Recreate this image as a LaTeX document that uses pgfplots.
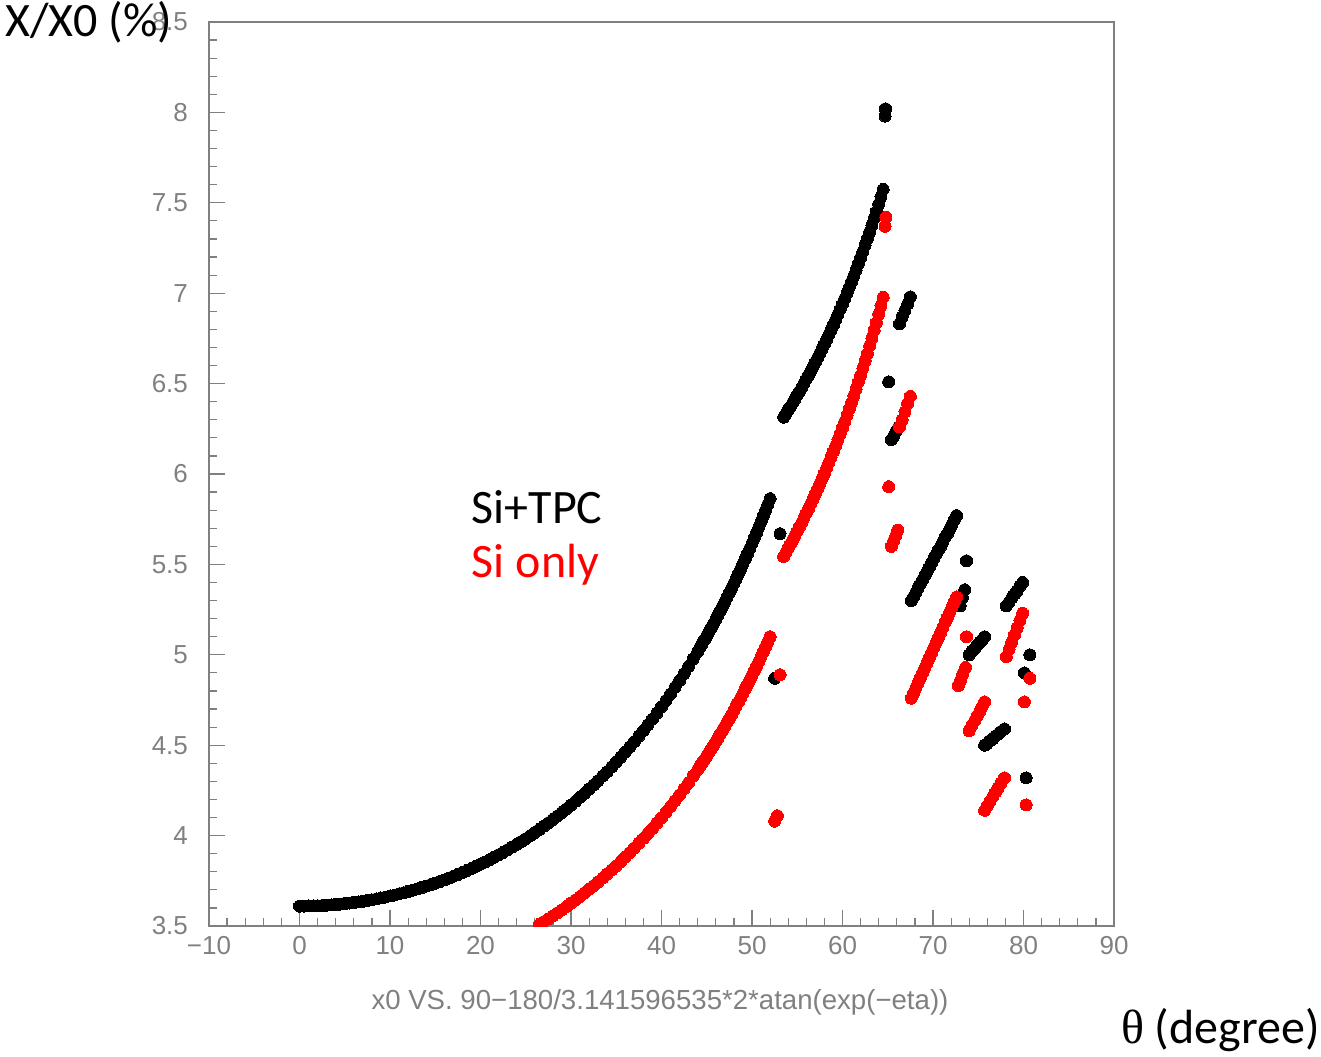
\documentclass[border=0pt]{standalone}
\usepackage{fontspec}
\setmainfont{Carlito}
\newfontfamily\rootfont{Liberation Sans}
\newfontfamily\seriffont{Liberation Serif}
\usepackage{pgfplots}
\pgfplotsset{compat=1.18}
\definecolor{axgray}{RGB}{128,128,128}
\begin{document}
\begin{tikzpicture}
\begin{axis}[
 scale only axis, width=452.5pt, height=452pt,
 xmin=-10, xmax=90, ymin=3.5, ymax=8.5,
 xtick={-10,0,10,20,30,40,50,60,70,80,90},
 xticklabels={−10,0,10,20,30,40,50,60,70,80,90},
 ytick={3.5,4,4.5,5,5.5,6,6.5,7,7.5,8,8.5},
 yticklabels={3.5,4,4.5,5,5.5,6,6.5,7,7.5,8,8.5},
 minor x tick num=4, minor y tick num=4,
 tick align=inside, xtick pos=left, ytick pos=left,
 major tick length=8pt, minor tick length=4pt,
 axis line style={axgray, line width=0.6pt},
 every tick/.append style={axgray, line width=0.6pt},
 tick label style={font=\rootfont\fontsize{13}{13}\selectfont, text=axgray},
 yticklabel style={xshift=-7pt},
 xticklabel style={yshift=-1.5pt},
 clip marker paths=true,
 only marks,
]
% Si+TPC (black)
\addplot[mark=*, mark size=3pt, mark options={draw=black, fill=black, line width=0pt}] coordinates {
(0,3.610)(0.5,3.610)(1,3.611)(1.5,3.611)(2,3.612)(2.5,3.613)(3,3.615)(3.5,3.617)(4,3.619)(4.5,3.621)
(5,3.624)(5.5,3.627)(6,3.630)(6.5,3.633)(7,3.637)(7.5,3.641)(8,3.645)(8.5,3.650)(9,3.655)(9.5,3.660)
(10,3.666)(10.5,3.671)(11,3.678)(11.5,3.684)(12,3.691)(12.5,3.698)(13,3.705)(13.5,3.713)(14,3.721)(14.5,3.729)
(15,3.737)(15.5,3.746)(16,3.755)(16.5,3.765)(17,3.775)(17.5,3.785)(18,3.796)(18.5,3.807)(19,3.818)(19.5,3.830)
(20,3.842)(20.5,3.854)(21,3.867)(21.5,3.880)(22,3.894)(22.5,3.907)(23,3.922)(23.5,3.937)(24,3.952)(24.5,3.967)
(25,3.983)(25.5,4.000)(26,4.017)(26.5,4.034)(27,4.052)(27.5,4.070)(28,4.089)(28.5,4.108)(29,4.128)(29.5,4.148)
(30,4.168)(30.5,4.190)(31,4.212)(31.5,4.234)(32,4.257)(32.5,4.280)(33,4.304)(33.5,4.329)(34,4.354)(34.5,4.380)
(35,4.407)(35.5,4.434)(36,4.462)(36.5,4.491)(37,4.520)(37.5,4.550)(38,4.581)(38.5,4.613)(39,4.645)(39.5,4.678)
(40,4.713)(40.5,4.747)(41,4.783)(41.5,4.820)(42,4.858)(42.5,4.896)(43,4.936)(43.5,4.977)(44,5.018)
(44.25,5.040)(44.5,5.061)(44.75,5.083)(45,5.105)(45.25,5.128)(45.5,5.150)(45.75,5.173)(46,5.197)(46.25,5.220)
(46.5,5.244)(46.75,5.269)(47,5.293)(47.25,5.318)(47.5,5.343)(47.75,5.369)(48,5.395)(48.25,5.421)(48.5,5.448)
(48.75,5.475)(49,5.503)(49.25,5.530)(49.5,5.559)(49.75,5.587)(50,5.616)(50.25,5.646)(50.5,5.675)(50.75,5.706)
(51,5.736)(51.25,5.768)(51.5,5.799)(51.75,5.831)(52,5.864)
(52.5,4.87)(53.1,5.67)
(53.5,6.314)(53.75,6.333)(54,6.353)(54.25,6.373)(54.5,6.394)(54.75,6.415)(55,6.436)(55.25,6.457)(55.5,6.479)
(55.75,6.501)(56,6.524)(56.25,6.547)(56.5,6.570)(56.75,6.594)(57,6.618)(57.25,6.642)(57.5,6.667)(57.75,6.692)
(58,6.718)(58.25,6.744)(58.5,6.771)(58.75,6.798)(59,6.825)(59.25,6.853)(59.5,6.882)(59.75,6.911)(60,6.940)
(60.25,6.970)(60.5,7.000)(60.75,7.032)(61,7.063)(61.25,7.095)(61.5,7.128)(61.75,7.162)(62,7.196)(62.25,7.230)
(62.5,7.266)(62.75,7.302)(63,7.338)(63.25,7.376)(63.5,7.414)(63.75,7.453)(64,7.492)(64.25,7.533)(64.5,7.574)
(64.7,7.98)(64.75,8.02)
(65.1,6.51)
(65.4,6.19)(65.65,6.21)(65.9,6.235)(66.2,6.26)
(66.3,6.83)(66.6,6.87)(66.9,6.905)(67.2,6.94)(67.5,6.98)
(67.6,5.30)(67.85,5.32)(68.1,5.345)(68.35,5.37)(68.6,5.39)(68.85,5.415)(69.1,5.44)(69.35,5.46)(69.6,5.485)
(69.85,5.51)(70.1,5.535)(70.35,5.555)(70.6,5.58)(70.85,5.60)(71.1,5.625)(71.35,5.65)(71.6,5.67)(71.85,5.695)
(72.1,5.72)(72.35,5.745)(72.6,5.77)
(73.0,5.27)(73.25,5.315)(73.5,5.36)
(73.7,5.52)
(74.0,5.00)(74.3,5.02)(74.6,5.035)(74.9,5.055)(75.2,5.07)(75.45,5.085)(75.7,5.10)
(75.7,4.50)(76.0,4.51)(76.3,4.525)(76.6,4.535)(76.9,4.55)(77.2,4.56)(77.5,4.575)(77.9,4.59)
(78.1,5.27)(78.4,5.29)(78.7,5.315)(79.0,5.335)(79.3,5.355)(79.6,5.38)(79.9,5.40)
(80.7,5.00)(80.1,4.90)(80.3,4.32)
};
% Si only (red)
\addplot[mark=*, mark size=3pt, mark options={draw=red, fill=red, line width=0pt}] coordinates {
(26,3.494)(26.5,3.509)(27,3.524)(27.5,3.540)(28,3.556)(28.5,3.573)(29,3.590)(29.5,3.608)
(30,3.626)(30.5,3.644)(31,3.663)(31.5,3.683)(32,3.703)(32.5,3.723)(33,3.744)(33.5,3.765)(34,3.788)(34.5,3.810)
(35,3.833)(35.5,3.857)(36,3.881)(36.5,3.906)(37,3.932)(37.5,3.958)(38,3.985)(38.5,4.012)(39,4.040)(39.5,4.069)
(40,4.099)(40.5,4.129)(41,4.161)(41.5,4.193)(42,4.225)(42.5,4.259)(43,4.293)(43.5,4.329)(44,4.365)
(44.25,4.384)(44.5,4.402)(44.75,4.421)(45,4.441)(45.25,4.460)(45.5,4.480)(45.75,4.500)(46,4.520)(46.25,4.541)
(46.5,4.562)(46.75,4.583)(47,4.604)(47.25,4.626)(47.5,4.648)(47.75,4.670)(48,4.693)(48.25,4.716)(48.5,4.739)
(48.75,4.762)(49,4.786)(49.25,4.810)(49.5,4.835)(49.75,4.860)(50,4.885)(50.25,4.911)(50.5,4.937)(50.75,4.963)
(51,4.990)(51.25,5.017)(51.5,5.044)(51.75,5.072)(52,5.100)
(52.5,4.08)(52.8,4.11)(53.1,4.89)
(53.5,5.544)(53.75,5.566)(54,5.589)(54.25,5.612)(54.5,5.635)(54.75,5.659)(55,5.683)(55.25,5.708)(55.5,5.732)
(55.75,5.758)(56,5.783)(56.25,5.809)(56.5,5.836)(56.75,5.863)(57,5.890)(57.25,5.918)(57.5,5.946)(57.75,5.975)
(58,6.004)(58.25,6.034)(58.5,6.064)(58.75,6.094)(59,6.126)(59.25,6.157)(59.5,6.190)(59.75,6.223)(60,6.256)
(60.25,6.290)(60.5,6.325)(60.75,6.360)(61,6.396)(61.25,6.433)(61.5,6.470)(61.75,6.508)(62,6.546)(62.25,6.586)
(62.5,6.626)(62.75,6.667)(63,6.709)(63.25,6.751)(63.5,6.795)(63.75,6.839)(64,6.884)(64.25,6.930)(64.5,6.977)
(64.7,7.37)(64.8,7.42)
(65.1,5.93)
(65.4,5.60)(65.65,5.63)(65.9,5.66)(66.1,5.69)
(66.3,6.26)(66.6,6.30)(66.9,6.345)(67.2,6.39)(67.5,6.43)
(67.6,4.76)(67.85,4.788)(68.1,4.816)(68.35,4.844)(68.6,4.872)(68.85,4.90)(69.1,4.928)(69.35,4.956)(69.6,4.984)
(69.85,5.012)(70.1,5.04)(70.35,5.068)(70.6,5.096)(70.85,5.124)(71.1,5.152)(71.35,5.18)(71.6,5.208)(71.85,5.236)
(72.1,5.264)(72.35,5.292)(72.6,5.32)
(73.7,5.10)
(72.8,4.83)(73.05,4.86)(73.3,4.895)(73.6,4.93)
(74.0,4.58)(74.3,4.61)(74.6,4.635)(74.9,4.665)(75.2,4.69)(75.45,4.715)(75.7,4.74)
(75.7,4.14)(76.0,4.165)(76.3,4.19)(76.6,4.215)(76.9,4.24)(77.2,4.265)(77.5,4.29)(77.9,4.32)
(78.1,4.99)(78.4,5.03)(78.7,5.07)(79.0,5.11)(79.3,5.15)(79.6,5.19)(79.9,5.23)
(80.7,4.87)(80.1,4.74)(80.3,4.17)
};
\node[anchor=west, font=\fontsize{24}{28}\selectfont, text=black, inner sep=0pt] at (axis cs:19.0,5.816) {Si+TPC};
\node[anchor=west, font=\fontsize{24}{28}\selectfont, text=red, inner sep=0pt] at (axis cs:19.0,5.496) {Si only};
\end{axis}
\node[anchor=center, font=\rootfont\fontsize{13.8}{15}\selectfont, text=axgray] at (225.5pt,-38pt) {x0 VS. 90−180/3.141596535*2*atan(exp(−eta))};
\node[anchor=west, font=\fontsize{24}{28}\selectfont, inner sep=0pt] at (-102pt,452pt) {X/X0 (\%)};
\node[anchor=east, font=\fontsize{24}{28}\selectfont, inner sep=0pt] at (555.5pt,-52pt) {{\seriffont θ} (degree)};
\pgfresetboundingbox
\path[use as bounding box] (-104.5pt,-65pt) rectangle (556pt,463pt);
\end{tikzpicture}
\end{document}
